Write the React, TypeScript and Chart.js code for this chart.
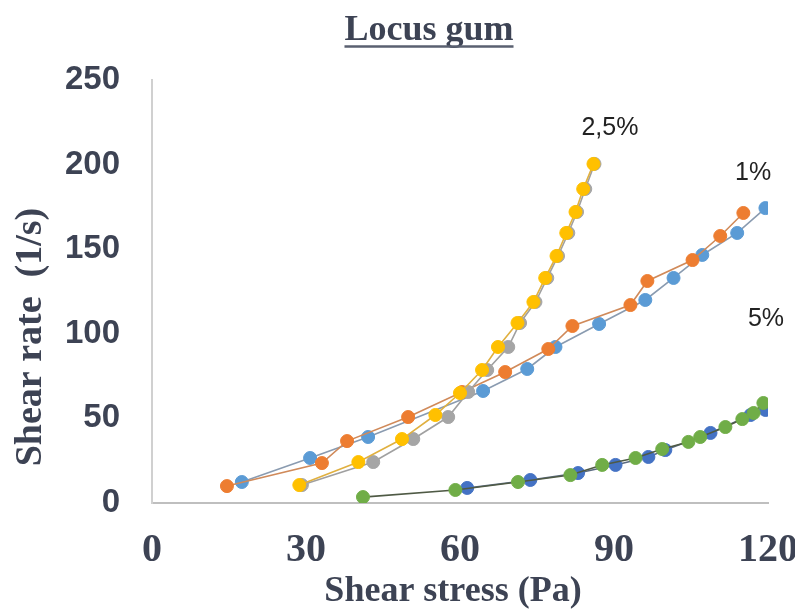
import React, { useEffect, useRef } from "react";
import { Chart, registerables } from "chart.js";

Chart.register(...registerables);

// 1% (two replicates)
const blue1X = [17.5, 30.8, 42.1, 64.5, 73.1, 78.6, 87.1, 96.1, 101.6, 107.2, 114.0, 119.5];
const blue1Y = [12.4, 26.6, 39.0, 66.2, 79.2, 92.2, 105.8, 120.0, 133.0, 146.6, 159.6, 174.3];
const orange1X = [14.6, 33.1, 38.0, 49.9, 60.4, 68.8, 77.2, 81.9, 93.2, 96.5, 105.3, 110.7, 115.2];
const orange1Y = [10.0, 23.6, 36.6, 50.8, 65.6, 77.4, 91.0, 104.6, 117.0, 131.2, 143.6, 157.8, 171.4];
// 2,5% (two replicates)
const gray25X = [29.2, 43.1, 50.9, 57.7, 61.6, 65.3, 69.4, 71.7, 74.7, 77.0, 79.1, 81.1, 82.8, 84.4, 86.2];
const gray25Y = [10.6, 24.2, 37.8, 50.8, 65.6, 78.6, 92.2, 106.4, 118.8, 133.0, 146.0, 159.6, 172.0, 185.6, 200.4];
const yellow25X = [28.7, 40.2, 48.7, 55.2, 60.0, 64.3, 67.4, 71.2, 74.3, 76.6, 78.8, 80.7, 82.5, 84.0, 86.0];
const yellow25Y = [10.6, 24.2, 37.8, 52.0, 65.0, 78.6, 92.2, 106.4, 118.8, 133.0, 146.0, 159.6, 172.0, 185.6, 200.4];
// 5% (two replicates)
const dblue5X = [61.4, 73.7, 83.0, 90.3, 96.7, 100.0, 108.8, 116.6, 119.5];
const dblue5Y = [8.9, 13.6, 17.7, 22.5, 27.2, 31.3, 41.4, 52.0, 55.0];
const green5X = [41.1, 59.1, 71.3, 81.5, 87.7, 94.2, 99.4, 104.5, 106.8, 111.7, 115.0, 117.2, 119.1];
const green5Y = [3.5, 7.7, 12.4, 16.5, 22.5, 26.6, 31.9, 36.1, 39.0, 44.9, 49.6, 53.2, 59.1];

const seriesNames = ["1% a", "1% b", "2,5% a", "2,5% b", "5% a", "5% b"];
const seriesColors = ["#5B9BD5", "#ED7D31", "#A5A5A5", "#FFC000", "#4472C4", "#70AD47"];
const lineColors = ["#8a9bb0", "#d08a5a", "#a0a0a0", "#e0b040", "#5a6a80", "#4f5a45"];

const xTickValues = [0, 30, 60, 90, 120];
const yTickValues = [0, 50, 100, 150, 200, 250];

const labelTexts = ["2,5%", "1%", "5%"];
const labelX = [89.2, 117.1, 119.6];
const labelY = [221.5, 195.0, 108.7];

const chartTitle = "Locus gum";
const xTitle = "Shear stress (Pa)";
const yTitle = "Shear rate  (1/s)";

const textDark = "#3d4354";

function pts(xs: number[], ys: number[]) {
  return xs.map((x, i) => ({ x, y: ys[i] }));
}

const textPlugin = {
  id: "texts",
  afterDraw(chart: any) {
    const ctx = chart.ctx;
    const xs = chart.scales.x;
    const ys = chart.scales.y;
    ctx.save();
    // annotations
    ctx.fillStyle = "#222222";
    ctx.font = "25px 'Liberation Sans', sans-serif";
    ctx.textAlign = "center";
    ctx.textBaseline = "middle";
    labelTexts.forEach((t, i) => {
      ctx.fillText(t, xs.getPixelForValue(labelX[i]), ys.getPixelForValue(labelY[i]));
    });
    // title
    ctx.fillStyle = textDark;
    ctx.font = "bold 36px 'Liberation Serif', serif";
    ctx.textAlign = "center";
    ctx.textBaseline = "alphabetic";
    const tcx = 429;
    ctx.fillText(chartTitle, tcx, 40);
    const tw = ctx.measureText(chartTitle).width;
    ctx.strokeStyle = "#5a6070";
    ctx.lineWidth = 2.5;
    ctx.beginPath();
    ctx.moveTo(tcx - tw / 2, 46.5);
    ctx.lineTo(tcx + tw / 2, 46.5);
    ctx.stroke();
    // x title
    ctx.font = "bold 36px 'Liberation Serif', serif";
    ctx.textBaseline = "middle";
    ctx.fillText(xTitle, 453, 592);
    // y title
    ctx.font = "bold 38px 'Liberation Serif', serif";
    ctx.translate(31, 337);
    ctx.rotate(-Math.PI / 2);
    ctx.fillText(yTitle, 0, 0);
    ctx.restore();
  },
};

export default function App() {
  const ref = useRef<HTMLCanvasElement>(null);
  useEffect(() => {
    if (!ref.current) return;
    const xsArr = [blue1X, orange1X, gray25X, yellow25X, dblue5X, green5X];
    const ysArr = [blue1Y, orange1Y, gray25Y, yellow25Y, dblue5Y, green5Y];
    const datasets = xsArr.map((xs, i) => ({
      label: seriesNames[i],
      data: pts(xs, ysArr[i]),
      showLine: true,
      borderColor: lineColors[i],
      borderWidth: 1.6,
      backgroundColor: seriesColors[i],
      pointBackgroundColor: seriesColors[i],
      pointBorderColor: seriesColors[i],
      pointBorderWidth: 1,
      pointRadius: 6.5,
      order: 6 - i,
    }));
    const chart = new Chart(ref.current, {
      type: "scatter",
      data: { datasets },
      plugins: [textPlugin],
      options: {
        animation: false,
        responsive: false,
        maintainAspectRatio: false,
        layout: { padding: { top: 80, right: 27, bottom: 0, left: 0 } },
        plugins: { legend: { display: false }, tooltip: { enabled: false }, title: { display: false } },
        scales: {
          x: {
            type: "linear",
            min: 0,
            max: 120,
            afterBuildTicks: (s: any) => {
              s.ticks = xTickValues.map((v) => ({ value: v }));
            },
            afterFit: (s: any) => {
              s.height = 112;
              s.paddingLeft = 0;
              s.paddingRight = 0;
            },
            grid: { display: true, drawOnChartArea: false, drawTicks: false },
            border: { display: true, color: "#bfbfbf", width: 2 },
            ticks: {
              padding: 24,
              color: textDark,
              font: { family: "'Liberation Serif', serif", size: 40, weight: "bold" },
              maxRotation: 0,
              autoSkip: false,
            },
          },
          y: {
            type: "linear",
            min: 0,
            max: 250,
            afterBuildTicks: (s: any) => {
              s.ticks = yTickValues.map((v) => ({ value: v }));
            },
            afterFit: (s: any) => {
              s.width = 152;
              s.paddingTop = 0;
              s.paddingBottom = 0;
            },
            grid: { display: true, drawOnChartArea: false, drawTicks: false },
            border: { display: true, color: "#d0d0d0", width: 2 },
            ticks: {
              padding: 32,
              color: textDark,
              font: { family: "'Liberation Sans', sans-serif", size: 33, weight: "bold" },
              autoSkip: false,
            },
          },
        },
      },
    } as any);
    return () => chart.destroy();
  }, []);
  return (
    <div style={{ position: "absolute", left: 0, top: 0, width: 795, height: 615, background: "#ffffff" }}>
      <canvas ref={ref} width={795} height={615} style={{ width: 795, height: 615, display: "block" }} />
    </div>
  );
}
